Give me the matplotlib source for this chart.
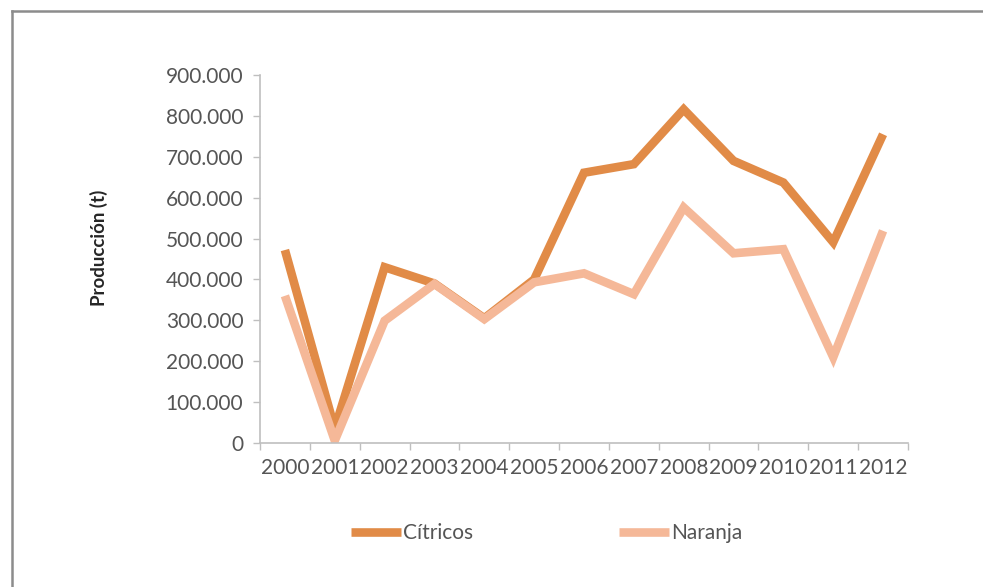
import matplotlib
matplotlib.use("Agg")
import matplotlib.pyplot as plt
from matplotlib.lines import Line2D
from matplotlib.ticker import FuncFormatter, FixedLocator

# Data: annual production (tonnes)
years = ["2000", "2001", "2002", "2003", "2004", "2005", "2006",
         "2007", "2008", "2009", "2010", "2011", "2012"]
citricos = [472000, 35000, 430000, 390000, 305000, 400000, 661000,
            682000, 816000, 690000, 637000, 491000, 755000]
naranja = [360000, 6000, 299000, 389000, 303000, 393000, 415000,
           364000, 576000, 464000, 474000, 210000, 519000]
y_ticks = [0, 100000, 200000, 300000, 400000, 500000, 600000, 700000, 800000, 900000]

col_citricos = "#E18B47"
col_naranja = "#F5B898"
text_col = "#555555"
axis_col = "#BFBFBF"

plt.rcParams["font.family"] = ["Lato", "DejaVu Sans"]

fig = plt.figure(figsize=(9.83, 5.87), dpi=100)
fig.patch.set_facecolor("white")

# Thin frame on the top and left edges
fig.add_artist(Line2D([0.0122, 0.0122], [-0.01, 0.9813], transform=fig.transFigure,
                      color="#8C8C8C", lw=1.8))
fig.add_artist(Line2D([0.0122, 1.01], [0.9813, 0.9813], transform=fig.transFigure,
                      color="#8C8C8C", lw=1.8))

ax = fig.add_axes([0.2645, 0.2453, 0.6592, 0.6269])

x = list(range(len(years)))
l1, = ax.plot(x, citricos, color=col_citricos, lw=6.2, solid_joinstyle="miter",
              solid_capstyle="butt", label="Cítricos")
l2, = ax.plot(x, naranja, color=col_naranja, lw=6.2, solid_joinstyle="miter",
              solid_capstyle="butt", label="Naranja")

ax.set_xlim(-0.5, len(years) - 0.5)
ax.set_ylim(0, 900000)

ax.set_yticks(y_ticks)
ax.yaxis.set_major_formatter(FuncFormatter(lambda v, p: f"{int(v):,}".replace(",", ".")))
ax.set_xticks(x)
ax.set_xticklabels(years)
ax.xaxis.set_minor_locator(FixedLocator([i - 0.5 for i in range(len(years) + 1)]))

ax.tick_params(axis="x", which="major", length=0, pad=11, labelsize=15, labelcolor=text_col)
ax.tick_params(axis="x", which="minor", length=5, width=1, color=axis_col, direction="out")
ax.tick_params(axis="y", which="major", length=5, width=1, color=axis_col, pad=7,
               labelsize=15, labelcolor=text_col)

for s in ["top", "right"]:
    ax.spines[s].set_visible(False)
for s in ["left", "bottom"]:
    ax.spines[s].set_color(axis_col)
    ax.spines[s].set_linewidth(1.2)

ax.set_ylabel("Producción (t)", fontsize=13.5, fontweight="bold", color="#262626")
ax.yaxis.set_label_coords(-0.235, 0.53)

leg = fig.legend(handles=[l1, l2], loc="center", bbox_to_anchor=(0.556, 0.092),
                 ncol=2, frameon=False, fontsize=15, handlelength=2.4,
                 handletextpad=0.1, columnspacing=7.0)
for t in leg.get_texts():
    t.set_color(text_col)

fig.savefig("out.png", dpi=100, facecolor="white")
